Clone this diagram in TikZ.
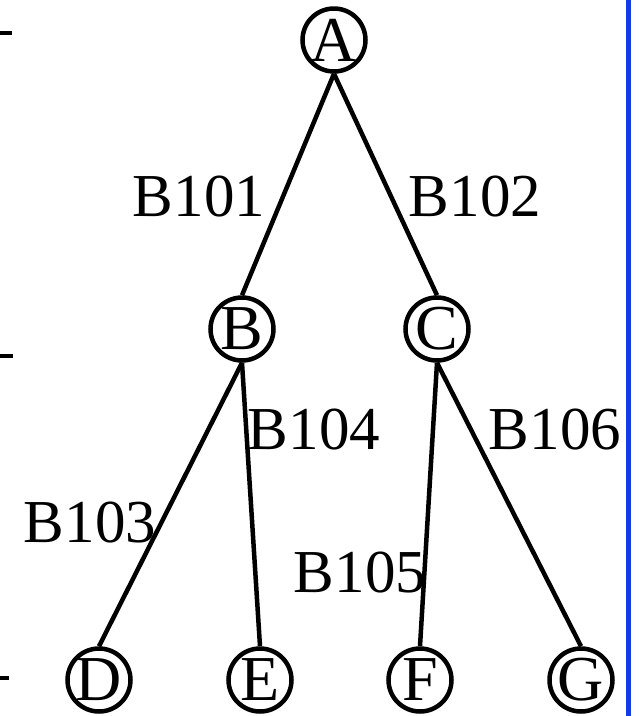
\documentclass[tikz,border=0pt]{standalone}
\usepackage{fontspec}
\setmainfont{Liberation Serif}
\definecolor{rulerblue}{RGB}{20,60,230}
\begin{document}
\begin{tikzpicture}[x=1pt,y=-1pt,
  vert/.style={circle,draw,line width=4.5pt,minimum size=63pt,inner sep=0pt,font=\fontsize{64}{72}\selectfont},
  elabel/.style={inner sep=0pt,font=\fontsize{61}{72}\selectfont},
  edge/.style={line width=4.5pt},
  tick/.style={line width=4pt}]
\useasboundingbox (0,0) rectangle (641,716);
\node[vert] (A) at (334,40) {A};
\node[vert] (B) at (242,329) {B};
\node[vert] (C) at (437,329) {C};
\node[vert] (D) at (99,680) {D};
\node[vert] (E) at (260,680) {E};
\node[vert] (F) at (420,680) {F};
\node[vert] (G) at (581,680) {G};
\draw[edge] (A.south) -- (B.north);
\draw[edge] (A.south) -- (C.north);
\draw[edge] (B.south) -- (D.north);
\draw[edge] (B.south) -- (E.north);
\draw[edge] (C.south) -- (F.north);
\draw[edge] (C.south) -- (G.north);
\node[elabel] (l101) at (199,197) {B101};
\node[elabel] (l102) at (475,197) {B102};
\node[elabel] (l104) at (314,430) {B104};
\node[elabel] (l106) at (555,430) {B106};
\node[elabel] (l103) at (90,523) {B103};
\node[elabel] (l105) at (360,573) {B105};
\coordinate (t1a) at (0,33); \coordinate (t1b) at (12,33);
\coordinate (t2a) at (0,356); \coordinate (t2b) at (13,356);
\coordinate (t3a) at (0,678); \coordinate (t3b) at (9,678);
\draw[tick] (t1a) -- (t1b);
\draw[tick] (t2a) -- (t2b);
\draw[tick] (t3a) -- (t3b);
\coordinate (bt) at (628,0); \coordinate (bb) at (628,716);
\draw[rulerblue,line width=5pt] (bt) -- (bb);
\end{tikzpicture}
\end{document}
